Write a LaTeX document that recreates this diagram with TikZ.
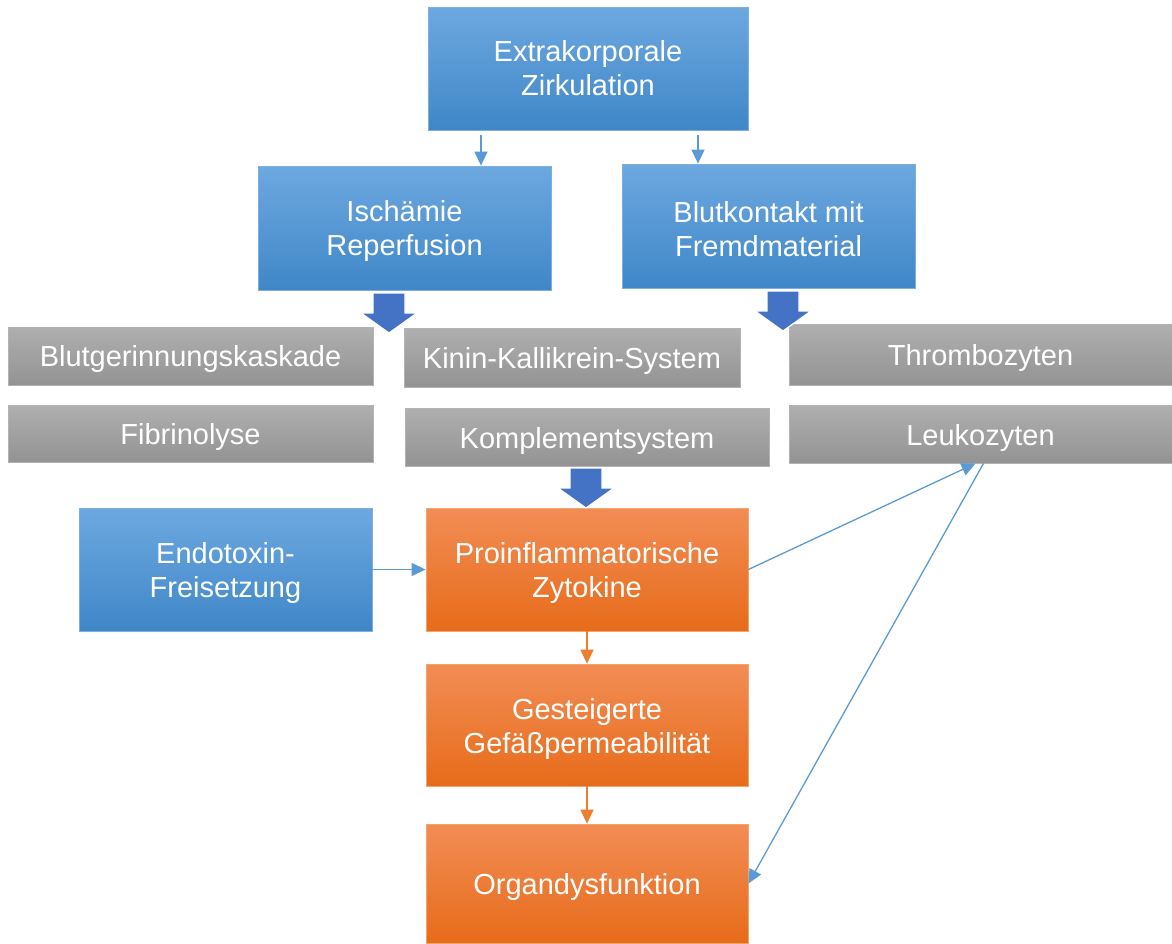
\documentclass[tikz,border=0pt]{standalone}
\usepackage{fontspec}
\setmainfont{Liberation Sans}
\usetikzlibrary{arrows.meta,calc}
\definecolor{bluetop}{HTML}{6DA8E0}
\definecolor{bluebot}{HTML}{3F87C8}
\definecolor{blueline}{HTML}{5B9BD5}
\definecolor{orangetop}{HTML}{F28D55}
\definecolor{orangebot}{HTML}{E76B1A}
\definecolor{orangeline}{HTML}{ED7D31}
\definecolor{graytop}{HTML}{AFAFAF}
\definecolor{graybot}{HTML}{939393}
\definecolor{blockblue}{HTML}{4472C4}
\newcommand{\lowr}{\rule{0pt}{28pt}}
\tikzset{
  base/.style={rectangle, inner sep=0pt, text=white, align=center, font=\fontsize{29}{34}\selectfont},
  bluebox/.style={base, top color=bluetop, bottom color=bluebot, draw=blueline!80!white, line width=0.8pt},
  orangebox/.style={base, top color=orangetop, bottom color=orangebot, draw=orangeline!70!white, line width=0.8pt},
  graybox/.style={base, top color=graytop, bottom color=graybot, draw=graybot!70!white, line width=0.8pt},
  conn/.style={draw=blueline, line width=1.3pt, -{Triangle[length=14pt,width=13pt]}},
  oconn/.style={draw=orangeline, line width=1.3pt, -{Triangle[length=14pt,width=13pt]}},
  blockarrow/.style={fill=blockblue, draw=white, line width=1.2pt}
}
\begin{document}
\begin{tikzpicture}[x=1pt,y=-1pt]
\useasboundingbox (0,0) rectangle (1172,943);
% top level
\node[bluebox, minimum width=320pt, minimum height=123pt] (ekz) at (588,68.5) {Extrakorporale\\Zirkulation};
\node[bluebox, minimum width=293pt, minimum height=124pt] (isch) at (404.5,228) {\lowr Ischämie\\Reperfusion};
\node[bluebox, minimum width=293pt, minimum height=124pt] (blut) at (768.5,226) {\lowr Blutkontakt mit\\Fremdmaterial};
% gray boxes
\node[graybox, minimum width=365pt, minimum height=58pt] (gerin) at (190.5,356) {\lowr Blutgerinnungskaskade};
\node[graybox, minimum width=336pt, minimum height=59pt] (kinin) at (572,357.5) {\lowr Kinin-Kallikrein-System};
\node[graybox, minimum width=383pt, minimum height=61pt] (thromb) at (980.5,354.5) {\lowr Thrombozyten};
\node[graybox, minimum width=365pt, minimum height=57pt] (fibrin) at (190.5,433.5) {\lowr Fibrinolyse};
\node[graybox, minimum width=364pt, minimum height=58pt] (kompl) at (587,437) {\lowr Komplementsystem};
\node[graybox, minimum width=383pt, minimum height=58pt] (leuk) at (980.5,434) {\lowr Leukozyten};
% lower
\node[bluebox, minimum width=293pt, minimum height=123pt] (endo) at (225.5,569.5) {\lowr Endotoxin-\\Freisetzung};
\node[orangebox, minimum width=322pt, minimum height=123pt] (pro) at (587,569.5) {\lowr Proinflammatorische\\Zytokine};
\node[orangebox, minimum width=322pt, minimum height=122pt] (ges) at (587,725) {\lowr Gesteigerte\\Gefäßpermeabilität};
\node[orangebox, minimum width=322pt, minimum height=119pt] (org) at (587,883.5) {\lowr Organdysfunktion};
% thin connectors
\draw[conn, shorten <=5pt] (ekz.south -| 481,0) -- (isch.north -| 481,0);
\draw[conn, shorten <=5pt] (ekz.south -| 698,0) -- (blut.north -| 698,0);
\draw[conn] (endo.east) -- (pro.west);
\draw[oconn] (pro.south) -- (ges.north);
\draw[oconn] (ges.south) -- (org.north);
\draw[conn] (pro.east) -- ($(leuk.south)+(-5,0)$);
\draw[conn] ($(leuk.south)+(3,0)$) -- (org.east);
% block arrows
\foreach \cx/\ty/\nm in {389/293/ba1, 783/291/ba2, 586/468/ba3}{
  \coordinate (\nm) at (\cx,\ty);
  \draw[blockarrow] ($(\nm)+(-16,0)$) -- ($(\nm)+(16,0)$) -- ($(\nm)+(16,20)$) -- ($(\nm)+(28,20)$)
     -- ($(\nm)+(0,40)$) -- ($(\nm)+(-28,20)$) -- ($(\nm)+(-16,20)$) -- cycle;
}
\end{tikzpicture}
\end{document}
